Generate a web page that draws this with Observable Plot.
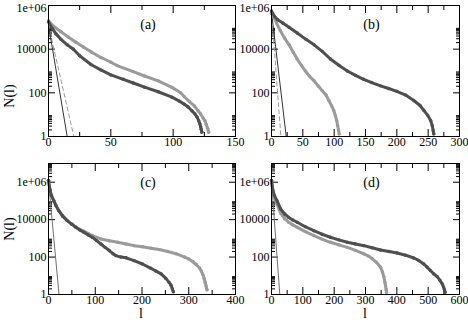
<!DOCTYPE html>
<html><head><meta charset="utf-8">
<script src="https://cdn.jsdelivr.net/npm/d3@7"></script>
<script src="https://cdn.jsdelivr.net/npm/@observablehq/plot@0.6"></script>
<style>
html,body{margin:0;padding:0;background:#fff;}
#chart{position:relative;width:468px;height:320px;overflow:hidden;font-family:"Liberation Serif","Times New Roman","DejaVu Serif",serif;background:#fff;}
#chart svg{position:absolute;left:0;top:0;}
.lab{position:absolute;font-size:14px;color:#000;line-height:14px;white-space:nowrap;}
</style></head><body><div id="chart"></div>
<script>
// ---- data: [l, log10 N(l)] ----
const aLight = [[0,5.3],[4,5.05],[10,4.8],[16,4.55],[22,4.32],[28,4.1],[35,3.85],[42,3.62],[50,3.4],[55,3.25],[68,2.97],[77,2.77],[88,2.55],[99,2.25],[106,2.0],[109,1.82],[113,1.6],[117,1.4],[120,1.18],[122,1.03],[124,0.85],[125.4,0.73],[126.5,0.55],[127.8,0.35],[128.5,0.2]];
const aDark = [[0,5.25],[3,4.95],[6,4.7],[10,4.45],[15,4.2],[20,4.0],[25,3.7],[34,3.3],[42,3.05],[50,2.82],[60,2.62],[68,2.45],[77,2.26],[88,2.05],[99,1.8],[105,1.62],[109,1.48],[112,1.35],[115,1.18],[117.5,1.03],[119.3,0.88],[120.5,0.72],[121.4,0.58],[122,0.45],[122.5,0.33],[123,0.2]];
const aSolid = [[0,5.1],[15,0]];
const aDash = [[0,5.1],[20.3,0]];

const bLight = [[0,5.65],[3,5.5],[8,5.2],[14,4.85],[21,4.5],[28,4.2],[35,3.85],[41,3.55],[48,3.25],[54,3.0],[61,2.75],[68,2.55],[75,2.3],[81,2.1],[87,1.9],[91.5,1.65],[96,1.4],[99.5,1.18],[102,0.95],[104,0.73],[105.5,0.5],[107,0.3],[108,0.12]];
const bDark = [[0,5.75],[5,5.5],[10,5.35],[18,5.2],[28,5.0],[41,4.74],[55,4.45],[68,4.2],[81,3.9],[94,3.55],[108,3.25],[121,3.0],[134,2.8],[147,2.62],[160,2.47],[174,2.32],[187,2.2],[200,2.07],[214,1.9],[227,1.65],[237,1.42],[243,1.2],[249,0.98],[254,0.73],[256.5,0.5],[258,0.27],[259,0.12]];
const bSolid = [[0,5.7],[23.5,0]];
const bDash = [[0,5.7],[15,0]];

const cLight = [[0,6.1],[3,5.6],[6,5.3],[11.5,5.0],[16,4.75],[22,4.48],[30,4.2],[40,3.95],[50,3.76],[58,3.62],[67,3.48],[76,3.38],[85,3.26],[94,3.15],[103,3.05],[112,2.97],[130,2.87],[148,2.79],[166,2.7],[183,2.61],[201,2.55],[219,2.47],[237,2.4],[255,2.3],[273,2.18],[291,2.0],[300,1.9],[309,1.75],[316,1.6],[323,1.42],[327,1.25],[330.5,1.05],[333,0.85],[335,0.66],[337,0.45],[339,0.25]];
const cDark = [[0,6.1],[3,5.6],[6,5.3],[11.5,5.0],[16,4.75],[22,4.48],[30,4.2],[40,3.95],[50,3.75],[58,3.6],[67,3.45],[76,3.32],[85,3.18],[94,3.05],[103,2.88],[112,2.7],[121,2.52],[130,2.35],[138,2.18],[144,2.08],[155,2.0],[166,1.96],[183,1.81],[201,1.63],[219,1.4],[230,1.25],[241,1.1],[251,0.86],[258,0.65],[262,0.5],[265,0.3],[267,0.15]];
const cSolid = [[0,6.05],[22.5,0]];

const dLight = [[0,6.1],[4,5.5],[9,5.15],[18,4.8],[29,4.35],[42,4.05],[55,3.86],[68,3.72],[82,3.59],[108,3.36],[135,3.15],[161,2.96],[188,2.79],[215,2.65],[242,2.52],[268,2.36],[295,2.17],[310,2.05],[321,1.92],[335,1.72],[348,1.46],[354,1.2],[358.6,0.95],[362,0.65],[364,0.45],[366,0.25],[367,0.12]];
const dDark = [[0,6.1],[4,5.6],[9,5.3],[18,5.0],[29,4.57],[42,4.3],[55,4.12],[68,3.98],[82,3.86],[108,3.62],[135,3.41],[161,3.22],[188,3.06],[215,2.92],[242,2.79],[268,2.7],[295,2.61],[321,2.5],[348,2.38],[375,2.3],[401,2.22],[428,2.1],[454,1.95],[470,1.82],[486,1.63],[497,1.46],[507,1.28],[518,1.1],[529,0.95],[538,0.75],[545,0.57],[549,0.4],[552,0.25],[554,0.12]];
const dSolid = [[0,6.05],[26.5,0]];

// ---- ticks ----
const yMajor = [1, 100, 10000, 1000000];
const yTickLabels = ["1", "100", "10000", "1e+06"];
const yMinorMult = [2,3,4,5,6,7,8,9];
const xMajorA = [0,50,100,150], xMinorA = [25,75,125];
const xMajorB = [0,50,100,150,200,250,300], xMinorB = [25,75,125,175,225,275];
const xMajorC = [0,100,200,300,400], xMinorC = [50,150,250,350];
const xMajorD = [0,100,200,300,400,500,600], xMinorD = [50,150,250,350,450,550];
const panelLabels = ["(a)","(b)","(c)","(d)"];

const DARK = "#4f4f4f", LIGHT = "#9b9b9b";
const FONT = "'Liberation Serif', 'Times New Roman', 'DejaVu Serif', serif";
const yLabelOf = new Map(yMajor.map((v,i)=>[v, yTickLabels[i]]));

function panel({xDomain, yDomain, m, xMajor, xMinor, light, dark, solid, dash, solidColor, label, topLabelDy}) {
  const yMin = [];
  for (const d of yMajor) for (const k of yMinorMult) if (k*d < yDomain[1]) yMin.push(k*d);
  const X = d => d[0], Y = d => Math.pow(10, d[1]);
  const marks = [];
  for (const anchor of ["bottom","top"]) {
    marks.push(Plot.axisX(xMajor, {anchor, tickSize: -7, fill: "none", label: null}));
    marks.push(Plot.axisX(xMinor, {anchor, tickSize: -4, fill: "none", label: null}));
  }
  for (const anchor of ["left","right"]) {
    marks.push(Plot.axisY(yMajor, {anchor, tickSize: -7, fill: "none", label: null}));
    marks.push(Plot.axisY(yMin, {anchor, tickSize: -4, fill: "none", label: null}));
  }
  marks.push(Plot.axisX(xMajor, {anchor: "bottom", tickSize: 0, tickPadding: 1, label: null}));
  const lowY = yMajor.slice(0, -1), topY = yMajor.slice(-1);
  marks.push(Plot.axisY(lowY, {anchor: "left", tickSize: 0, tickPadding: 2, tickFormat: d => yLabelOf.get(d), label: null}));
  marks.push(Plot.axisY(topY, {anchor: "left", tickSize: 0, tickPadding: 2, dy: topLabelDy, tickFormat: d => yLabelOf.get(d), label: null}));
  if (dash) marks.push(Plot.line(dash, {x: X, y: Y, stroke: LIGHT, strokeWidth: 1, strokeDasharray: "4,3"}));
  if (solid) marks.push(Plot.line(solid, {x: X, y: Y, stroke: solidColor, strokeWidth: 1}));
  marks.push(Plot.line(light, {x: X, y: Y, stroke: LIGHT, strokeWidth: 3}));
  marks.push(Plot.dot(light, {x: X, y: Y, r: 1.7, fill: LIGHT}));
  marks.push(Plot.line(dark, {x: X, y: Y, stroke: DARK, strokeWidth: 3}));
  marks.push(Plot.dot(dark, {x: X, y: Y, r: 1.7, fill: DARK}));
  marks.push(Plot.text([label], {frameAnchor: "top", dy: 14, dx: 6, fontSize: 14}));
  marks.push(Plot.frame({stroke: "black", strokeWidth: 1}));
  return Plot.plot({
    width: 468, height: 320,
    marginTop: m[0], marginRight: m[1], marginBottom: m[2], marginLeft: m[3],
    style: {background: "transparent", fontFamily: FONT, fontSize: "12px", color: "black", overflow: "visible"},
    x: {domain: xDomain},
    y: {type: "log", domain: yDomain},
    marks
  });
}

const chart = document.getElementById("chart");
chart.appendChild(panel({xDomain:[0,150], yDomain:[1,1e6], m:[5,233,184,48], xMajor:xMajorA, xMinor:xMinorA, light:aLight, dark:aDark, solid:aSolid, dash:aDash, solidColor:"#333", label:panelLabels[0], topLabelDy:3}));
chart.appendChild(panel({xDomain:[0,300], yDomain:[1,1e6], m:[5,9,184,271], xMajor:xMajorB, xMinor:xMinorB, light:bLight, dark:bDark, solid:bSolid, dash:bDash, solidColor:"#333", label:panelLabels[1], topLabelDy:3}));
chart.appendChild(panel({xDomain:[0,400], yDomain:[1,1e7], m:[163,233,26,48], xMajor:xMajorC, xMinor:xMinorC, light:cLight, dark:cDark, solid:cSolid, dash:null, solidColor:"#707070", label:panelLabels[2], topLabelDy:0}));
chart.appendChild(panel({xDomain:[0,600], yDomain:[1,1e7], m:[163,9,26,271], xMajor:xMajorD, xMinor:xMinorD, light:dLight, dark:dDark, solid:dSolid, dash:null, solidColor:"#707070", label:panelLabels[3], topLabelDy:0}));

function addLabel(text, x, y, rotate) {
  const el = document.createElement("div");
  el.className = "lab";
  el.textContent = text;
  chart.appendChild(el);
  const w = el.offsetWidth, h = el.offsetHeight;
  el.style.left = (x - w/2) + "px";
  el.style.top = (y - h/2) + "px";
  if (rotate) el.style.transform = "rotate(-90deg)";
}
addLabel("N(l)", 9, 96, true);
addLabel("N(l)", 9, 229, true);
addLabel("l", 141, 314, false);
addLabel("l", 365, 314, false);
</script>
</body></html>
